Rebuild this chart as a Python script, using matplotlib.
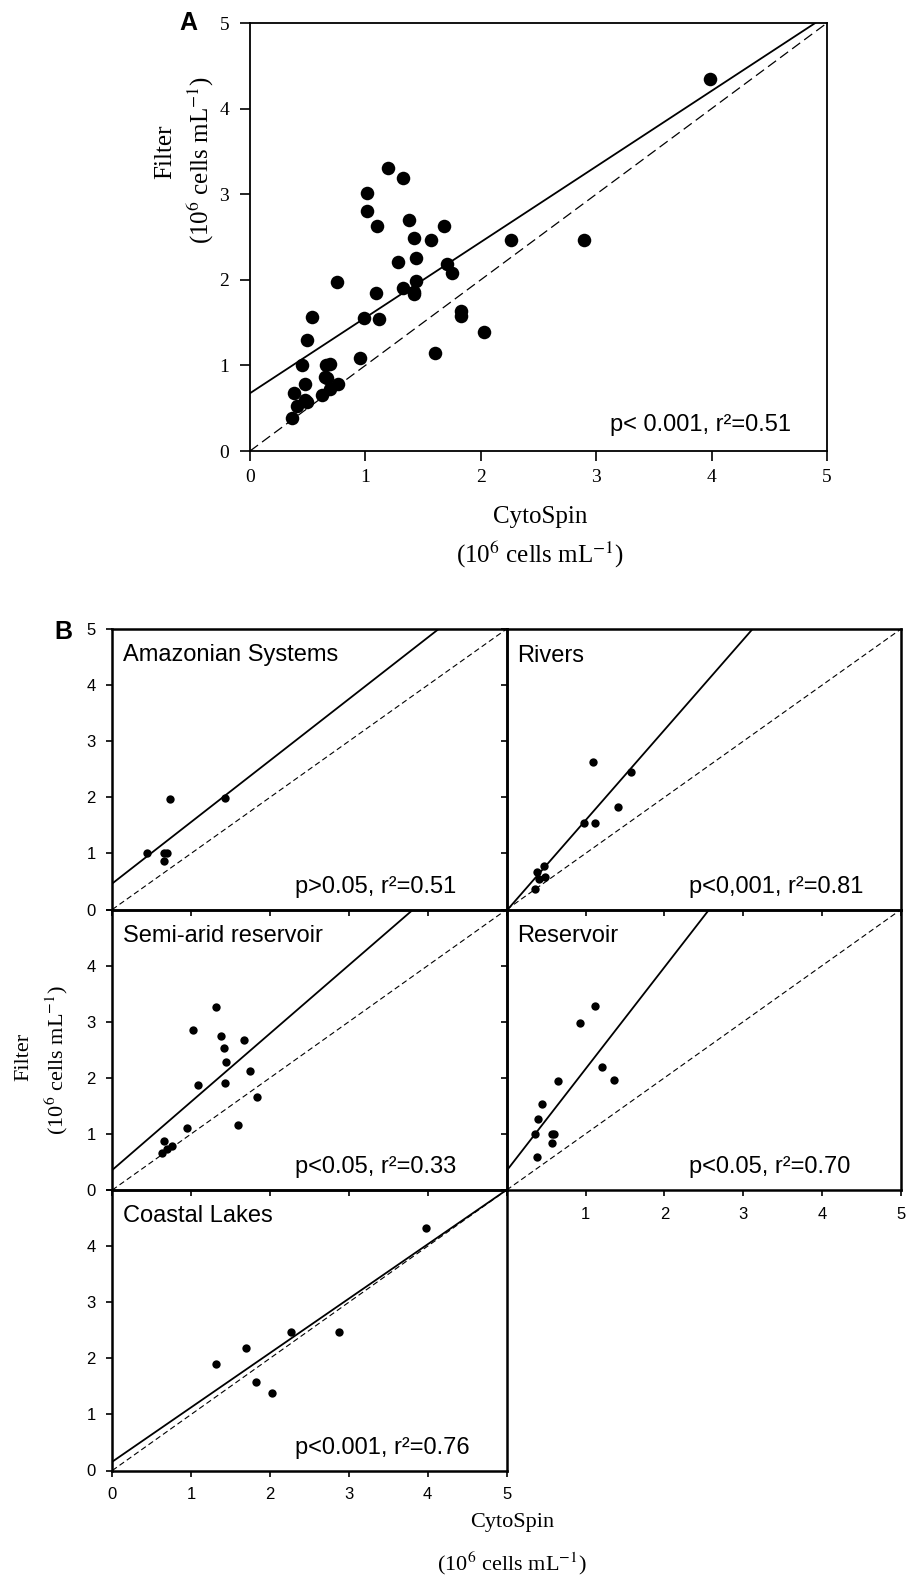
import matplotlib
matplotlib.use('Agg')
import matplotlib.pyplot as plt

plt.rcParams['font.family'] = ['Liberation Sans', 'DejaVu Sans']
plt.rcParams['mathtext.fontset'] = 'stix'

W, H = 914, 1575

# ---- panel A: all samples ----
a_x = [1.20, 1.33, 1.01, 1.01, 1.10, 1.38, 1.68, 1.42, 1.57, 2.26,
       1.28, 1.44, 1.71, 1.75, 0.75, 1.44, 1.33, 1.42, 1.42, 1.09,
       0.54, 0.99, 1.12, 1.83, 1.83, 2.03, 0.49, 1.60, 0.45, 0.66,
       0.69, 0.95, 0.65, 0.67, 0.48, 0.76, 0.69, 0.38, 0.62, 0.41,
       0.48, 0.49, 0.36, 3.99, 2.89]
a_y = [3.31, 3.19, 3.01, 2.80, 2.63, 2.70, 2.63, 2.49, 2.46, 2.46,
       2.21, 2.25, 2.18, 2.08, 1.97, 1.99, 1.90, 1.86, 1.83, 1.84,
       1.57, 1.55, 1.54, 1.63, 1.58, 1.39, 1.30, 1.14, 1.01, 1.01,
       1.02, 1.09, 0.86, 0.85, 0.78, 0.78, 0.73, 0.68, 0.65, 0.53,
       0.60, 0.57, 0.38, 4.34, 2.46]
a_fit = (0.675, 0.883)   # intercept, slope
a_stat = 'p< 0.001, r²=0.51'

# ---- panel B: by system type ----
amaz_x = [0.44, 0.65, 0.69, 0.66, 0.73, 1.43]
amaz_y = [1.01, 1.01, 1.01, 0.86, 1.97, 1.98]

riv_x = [1.09, 1.57, 1.41, 0.98, 1.12, 0.47, 0.38, 0.41, 0.48, 0.36]
riv_y = [2.63, 2.45, 1.82, 1.54, 1.54, 0.77, 0.67, 0.54, 0.58, 0.37]

semi_x = [1.32, 1.02, 1.38, 1.67, 1.42, 1.44, 1.75, 1.09, 1.43, 1.83,
          0.95, 1.60, 0.65, 0.76, 0.69, 0.63]
semi_y = [3.26, 2.86, 2.75, 2.67, 2.54, 2.28, 2.13, 1.88, 1.90, 1.65,
          1.11, 1.15, 0.87, 0.79, 0.73, 0.66]

res_x = [1.12, 0.93, 1.21, 1.36, 0.65, 0.45, 0.40, 0.36, 0.57, 0.60, 0.57, 0.38]
res_y = [3.28, 2.98, 2.19, 1.96, 1.95, 1.54, 1.27, 0.99, 0.99, 0.99, 0.84, 0.58]

coast_x = [3.98, 2.87, 2.26, 1.70, 1.32, 1.82, 2.02]
coast_y = [4.33, 2.47, 2.46, 2.18, 1.90, 1.58, 1.39]

groups = ['Amazonian Systems', 'Rivers', 'Semi-arid reservoir', 'Reservoir', 'Coastal Lakes']
group_x = [amaz_x, riv_x, semi_x, res_x, coast_x]
group_y = [amaz_y, riv_y, semi_y, res_y, coast_y]
group_fit = [(0.464, 1.096), (-0.02, 1.61), (0.357, 1.217), (0.345, 1.813), (0.157, 0.969)]
group_stat = ['p>0.05, r²=0.51', 'p<0,001, r²=0.81', 'p<0.05, r²=0.33',
              'p<0.05, r²=0.70', 'p<0.001, r²=0.76']

ticks = [0, 1, 2, 3, 4, 5]
unit_label = '(10$^{6}$ cells mL$^{-1}$)'


def box(left, top, right, bottom):
    return [left / W, 1 - bottom / H, (right - left) / W, (bottom - top) / H]


fig = plt.figure(figsize=(W / 100, H / 100), dpi=100)

# ---------- panel A ----------
ax = fig.add_axes(box(250, 23, 827, 451))
ax.scatter(a_x, a_y, s=95, color='black', zorder=3, linewidths=0)
ax.plot([0, 5], [0, 5], color='black', lw=0.9, dashes=(8, 4))
b, m = a_fit
ax.plot([0, 5], [b, b + 5 * m], color='black', lw=1.3)
ax.set_xlim(0, 5)
ax.set_ylim(0, 5)
ax.set_xticks(ticks)
ax.set_yticks(ticks)
ax.tick_params(direction='out', length=7, width=1.2)
ax.tick_params(axis='x', pad=6)
ax.tick_params(axis='y', pad=8)
for lab in ax.get_xticklabels() + ax.get_yticklabels():
    lab.set_fontfamily('Liberation Serif')
    lab.set_fontsize(14)
for s in ax.spines.values():
    s.set_linewidth(1.3)
ax.text(0.624, 0.047, a_stat, transform=ax.transAxes, fontsize=17,
        ha='left', va='baseline')

fig.text(188 / W, 1 - 22.5 / H, 'A', fontsize=18, fontweight='bold',
         ha='center', va='center')
fig.text(540 / W, 1 - 517 / H, 'CytoSpin', family='Liberation Serif',
         fontsize=18, ha='center', va='center')
fig.text(540 / W, 1 - 555 / H, unit_label, family='Liberation Serif',
         fontsize=18, ha='center', va='center')
fig.text(165 / W, 1 - 152 / H, 'Filter', family='Liberation Serif',
         fontsize=18, ha='center', va='center', rotation=90)
fig.text(201 / W, 1 - 160 / H, unit_label, family='Liberation Serif',
         fontsize=18, ha='center', va='center', rotation=90)

# ---------- panel B ----------
col_left = [112.3, 506.7]
pw = 394.3
row_top = [629, 909.5, 1190]
ph = 280.5
cells = [(0, 0), (0, 1), (1, 0), (1, 1), (2, 0)]

for i, name in enumerate(groups):
    r, c = cells[i]
    left = col_left[c]
    top = row_top[r]
    bx = fig.add_axes(box(left, top, left + pw, top + ph))
    bx.set_facecolor('none')
    bx.scatter(group_x[i], group_y[i], s=36, color='black', zorder=3, linewidths=0)
    bx.plot([0, 5], [0, 5], color='black', lw=0.8, dashes=(5, 3))
    b, m = group_fit[i]
    bx.plot([0, 5], [b, b + 5 * m], color='black', lw=1.3)
    bx.set_xlim(0, 5)
    bx.set_ylim(0, 5)
    bx.set_xticks(ticks)
    bx.set_yticks(ticks)
    bx.tick_params(direction='out', length=4, width=1.2, labelsize=12, pad=8)
    for s in bx.spines.values():
        s.set_linewidth(1.8)
    if c == 0:
        if r == 0:
            bx.set_yticklabels([str(t) for t in ticks])
        else:
            bx.set_yticklabels([str(t) for t in ticks[:-1]] + [''])
    else:
        bx.set_yticklabels([])
    if name == 'Coastal Lakes':
        bx.set_xticklabels([str(t) for t in ticks])
    elif name == 'Reservoir':
        bx.set_xticklabels([''] + [str(t) for t in ticks[1:]])
    else:
        bx.set_xticklabels([])
    bx.text(10.5 / pw, 1 - 32.5 / ph, name, transform=bx.transAxes,
            fontsize=17, ha='left', va='baseline')
    bx.text(182.5 / pw, 16.5 / ph, group_stat[i], transform=bx.transAxes,
            fontsize=17, ha='left', va='baseline')

fig.text(63 / W, 1 - 632 / H, 'B', fontsize=18, fontweight='bold',
         ha='center', va='center')
fig.text(512 / W, 1 - 1523 / H, 'CytoSpin', family='Liberation Serif',
         fontsize=16, ha='center', va='center')
fig.text(512 / W, 1 - 1563 / H, unit_label, family='Liberation Serif',
         fontsize=16, ha='center', va='center')
fig.text(23.5 / W, 1 - 1057 / H, 'Filter', family='Liberation Serif',
         fontsize=16, ha='center', va='center', rotation=90)
fig.text(56 / W, 1 - 1060 / H, unit_label, family='Liberation Serif',
         fontsize=16, ha='center', va='center', rotation=90)

fig.savefig('out.png', dpi=100)
